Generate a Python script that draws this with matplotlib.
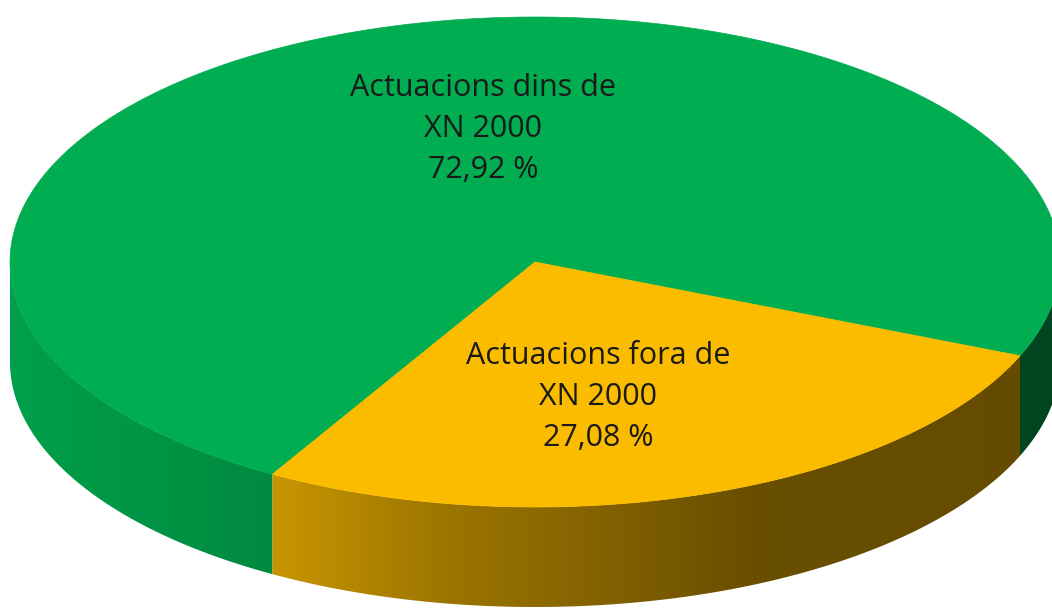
import numpy as np
import matplotlib.pyplot as plt
from matplotlib.patches import Polygon

# data
labels = ['Actuacions dins de\nXN 2000', 'Actuacions fora de\nXN 2000']
values = [72.92, 27.08]
colors = ['#00ad50', '#fbbc00']
label_pos = [(483, 129), (598, 397)]

# pie geometry in pixels (perspective flattened to an ellipse)
cx, cy, rx, ry = 535, 262, 525, 245
depth = 100
start = 337.49  # green goes counterclockwise from here, orange ends here

W, H = 1052, 608
fig = plt.figure(figsize=(W / 100, H / 100), dpi=100)
ax = fig.add_axes([0, 0, 1, 1])
ax.set_xlim(0, W)
ax.set_ylim(H, 0)
ax.axis('off')


def ellipse_pts(a0, a1, dy=0, n=300):
    t = np.radians(np.linspace(a0, a1, n))
    return np.column_stack([cx + rx * np.cos(t), cy - ry * np.sin(t) + dy])


# side shading gets darker to the right
shade_x = [0, 270, 450, 750, W]
shade_f = [0.93, 0.80, 0.62, 0.42, 0.40]
xs = np.arange(W)
fac = np.interp(xs, shade_x, shade_f)

angles = []
a = start
for v in values:
    span = v / sum(values) * 360
    angles.append((a, a + span))
    a += span

# sides (only the front half, 180..360 deg, is visible)
for (a0, a1), col in zip(angles, colors):
    base = np.array(plt.matplotlib.colors.to_rgb(col))
    for lo, hi in [(180, 360), (540, 720)]:
        s0, s1 = max(a0, lo), min(a1, hi)
        if s1 <= s0:
            continue
        top = ellipse_pts(s0, s1)
        bot = ellipse_pts(s1, s0, dy=depth)
        poly = Polygon(np.vstack([top, bot]), closed=True, facecolor='none', edgecolor='none')
        ax.add_patch(poly)
        img = np.clip(base[None, None, :] * fac[None, :, None], 0, 1)
        im = ax.imshow(img, extent=(0, W, H, 0), aspect='auto', interpolation='bilinear', zorder=1)
        im.set_clip_path(poly)

# tops
for (a0, a1), col in zip(angles, colors):
    pts = np.vstack([[cx, cy], ellipse_pts(a0, a1)])
    ax.add_patch(Polygon(pts, closed=True, facecolor=col, edgecolor=col, lw=0.5, zorder=2))

# labels
for lab, v, (x, y) in zip(labels, values, label_pos):
    txt = lab + '\n' + f'{v:.2f}'.replace('.', ',') + ' %'
    ax.text(x, y, txt, ha='center', va='center', fontsize=22, family='Open Sans',
            color='#1a1a1a', linespacing=1.47, zorder=3)

fig.savefig('out.png', dpi=100, facecolor='white')
